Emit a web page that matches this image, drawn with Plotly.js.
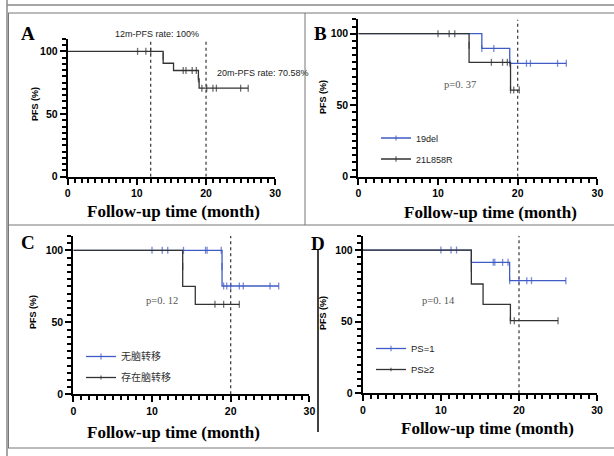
<!DOCTYPE html>
<html>
<head>
<meta charset="utf-8">
<script src="https://cdn.plot.ly/plotly-3.0.1.min.js"></script>
<style>html,body{margin:0;padding:0;background:#fff;}#chart{width:614px;height:456px;}</style>
</head>
<body>
<div id="chart"></div>
<script>
// ---------------- DATA ----------------
const xTickStep = 10;   // major ticks 0,10,20,30
const yTickStep = 50;   // major ticks 0,50,100
const xMinorStep = 1;
const yMinorStep = 5;
const xTitle = 'Follow-up time (month)';
const yTitle = 'PFS (%)';

// Panel A: whole cohort
const A_eventT = [0, 13.8, 15.3, 19.0];
const A_eventS = [100, 90.5, 84.7, 70.6];
const A_censT = [10.1, 11.3, 12.0, 13.8, 16.7, 17.1, 18.0, 18.6, 18.9, 19.4, 20.1, 21.0, 21.5, 25.0, 26.1];
const A_censS = [100, 100, 100, 96, 84.7, 84.7, 84.7, 84.7, 78, 70.6, 70.6, 70.6, 70.6, 70.6, 70.6];
const A_refLines = [12, 20];
const A_notes = ['12m-PFS rate: 100%', '20m-PFS rate: 70.58%'];

// Panel B: mutation type
const B_names = ['19del', '21L858R'];
const B1_eventT = [0, 15.5, 19.0];
const B1_eventS = [100, 89.7, 79.3];
const B1_censT = [15.5, 17.0, 19.0, 21.1, 21.6, 25.0, 26.1];
const B1_censS = [89.7, 89.7, 79.3, 79.3, 79.3, 79.3, 79.3];
const B2_eventT = [0, 13.9, 19.1];
const B2_eventS = [100, 80, 60.6];
const B2_censT = [10.0, 11.4, 12.1, 13.9, 16.7, 18.1, 18.7, 19.1, 19.5, 20.2];
const B2_censS = [100, 100, 100, 92, 80, 80, 80, 60.6, 60.6, 60.6];
const B_p = 'p=0. 37';

// Panel C: brain metastasis
const C_names = ['无脑转移', '存在脑转移'];
const C1_eventT = [0, 18.9];
const C1_eventS = [100, 75.2];
const C1_censT = [10.0, 11.3, 12.0, 14.0, 16.8, 17.0, 18.8, 18.9, 19.1, 19.5, 20.0, 21.1, 21.6, 25.0, 26.1];
const C1_censS = [100, 100, 100, 100, 100, 100, 100, 88.7, 75.2, 75.2, 75.2, 75.2, 75.2, 75.2, 75.2];
const C2_eventT = [0, 13.9, 15.5];
const C2_eventS = [100, 75, 62.5];
const C2_censT = [13.9, 18.0, 19.1, 21.1];
const C2_censS = [88.7, 62.5, 62.5, 62.5];
const C_p = 'p=0. 12';

// Panel D: PS score
const D_names = ['PS=1', 'PS≥2'];
const D1_eventT = [0, 13.9, 18.8];
const D1_eventS = [100, 91.4, 78.6];
const D1_censT = [10.0, 11.3, 12.0, 13.9, 16.7, 16.9, 17.9, 18.6, 18.8, 20.0, 21.0, 21.6, 26.0];
const D1_censS = [100, 100, 100, 91.4, 91.4, 91.4, 91.4, 91.4, 78.6, 78.6, 78.6, 78.6, 78.6];
const D2_eventT = [0, 13.9, 15.4, 18.9];
const D2_eventS = [100, 76.3, 62.1, 50.7];
const D2_censT = [13.9, 18.9, 19.4, 25.0];
const D2_censS = [87, 50.7, 50.7, 50.7];
const D_p = 'p=0. 14';

const refLine20 = [20];

// ---------------- STYLE / LAYOUT ----------------
const W = 614, H = 456;
const px = v => v / W;
const py = v => 1 - v / H;
const BLUE = '#3f5bc6', DARK = '#333333';
const SERIF = '"Times New Roman", "Liberation Serif", serif';
const SANS = 'Arial, "Liberation Sans", sans-serif';
const CJK = '"Noto Sans CJK SC", sans-serif';

const panels = [
  {id: '',  left: 67.7,  right: 275.2, bottom: 176.7, top: 38.8},
  {id: '2', left: 358.3, right: 597.4, bottom: 176.7, top: 19.4},
  {id: '3', left: 73.3,  right: 309.4, bottom: 394.3, top: 235.9},
  {id: '4', left: 362.8, right: 597.1, bottom: 393.3, top: 235.7}
];

function kmTrace(eventT, eventS, censT, censS, color, name, pi, legend) {
  const pts = [];
  eventT.forEach((t, i) => pts.push({t: t, s: eventS[i], c: false}));
  censT.forEach((t, i) => pts.push({t: t, s: censS[i], c: true}));
  pts.sort((a, b) => (a.t - b.t) || (b.s - a.s));
  const p = panels[pi];
  const tr = {
    type: 'scatter', mode: 'lines+markers',
    x: pts.map(d => d.t), y: pts.map(d => d.s),
    line: {shape: 'hv', color: color, width: 1.3},
    marker: {symbol: 'line-ns', size: pts.map(d => d.c ? 5 : 0),
             color: color, line: {color: color, width: 1.3}},
    xaxis: 'x' + p.id, yaxis: 'y' + p.id,
    name: name, cliponaxis: false, hoverinfo: 'skip',
    showlegend: !!legend
  };
  if (legend) { tr.legend = legend; tr.legendgroup = name; }
  return tr;
}

const data = [
  kmTrace(A_eventT, A_eventS, A_censT, A_censS, DARK, 'all', 0, null),
  kmTrace(B1_eventT, B1_eventS, B1_censT, B1_censS, BLUE, B_names[0], 1, 'legend'),
  kmTrace(B2_eventT, B2_eventS, B2_censT, B2_censS, DARK, B_names[1], 1, 'legend'),
  kmTrace(C1_eventT, C1_eventS, C1_censT, C1_censS, BLUE, C_names[0], 2, 'legend2'),
  kmTrace(C2_eventT, C2_eventS, C2_censT, C2_censS, DARK, C_names[1], 2, 'legend2'),
  kmTrace(D1_eventT, D1_eventS, D1_censT, D1_censS, BLUE, D_names[0], 3, 'legend3'),
  kmTrace(D2_eventT, D2_eventS, D2_censT, D2_censS, DARK, D_names[1], 3, 'legend3')
];

const tickFont = {family: SANS, size: 10.5, weight: 'bold', color: '#000'};
const layout = {
  width: W, height: H,
  margin: {l: 0, r: 0, t: 0, b: 0},
  paper_bgcolor: '#fff', plot_bgcolor: 'rgba(0,0,0,0)',
  font: {family: SANS, color: '#000'},
  annotations: [], shapes: []
};

panels.forEach(p => {
  layout['xaxis' + p.id] = {
    domain: [px(p.left), px(p.right)], range: [0, 30], anchor: 'y' + p.id,
    tickmode: 'linear', tick0: 0, dtick: xTickStep, ticks: 'outside', ticklen: 6, tickwidth: 2, tickcolor: '#000',
    showline: true, linewidth: 2, linecolor: '#000', showgrid: false, zeroline: false,
    tickfont: tickFont, fixedrange: true,
    minor: {tick0: 0, dtick: xMinorStep, ticks: 'outside', ticklen: 4, tickwidth: 2, tickcolor: '#000', showgrid: false}
  };
  layout['yaxis' + p.id] = {
    domain: [py(p.bottom), py(p.top)], range: [0, 110], anchor: 'x' + p.id,
    tickmode: 'linear', tick0: 0, dtick: yTickStep, ticks: 'outside', ticklen: 6, tickwidth: 2, tickcolor: '#000',
    showline: true, linewidth: 2, linecolor: '#000', showgrid: false, zeroline: false,
    tickfont: tickFont, fixedrange: true,
    minor: {tick0: 0, dtick: yMinorStep, ticks: 'outside', ticklen: 4, tickwidth: 2, tickcolor: '#000', showgrid: false}
  };
});

// reference dotted lines
function refShapes(vals, pi) {
  const p = panels[pi];
  vals.forEach(v => layout.shapes.push({
    type: 'line', xref: 'x' + p.id, yref: 'y' + p.id, x0: v, x1: v, y0: 0, y1: 110,
    line: {color: '#333', width: 1.2, dash: 'dot'}, layer: 'below'
  }));
}
refShapes(A_refLines, 0);
refShapes(refLine20, 1);
refShapes(refLine20, 2);
refShapes(refLine20, 3);

// figure frame lines
function hline(y, x0, x1, c, w) { layout.shapes.push({type: 'line', xref: 'paper', yref: 'paper', x0: px(x0), x1: px(x1), y0: py(y), y1: py(y), line: {color: c, width: w}}); }
function vline(x, y0, y1, c, w) { layout.shapes.push({type: 'line', xref: 'paper', yref: 'paper', x0: px(x), x1: px(x), y0: py(y0), y1: py(y1), line: {color: c, width: w}}); }
vline(7, 0, 456, '#888', 1.5);
hline(5, 7, 614, '#888', 1.5);
hline(13, 8, 614, '#777', 1);
vline(8.5, 13, 448, '#777', 1);
vline(305, 13, 225, '#777', 1);
hline(225, 8, 614, '#777', 1);
vline(318, 250, 432, '#000', 1.5);
hline(448, 8, 614, '#777', 1);

function ann(text, x, y, font, extra) {
  layout.annotations.push(Object.assign({
    text: text, xref: 'paper', yref: 'paper', x: px(x), y: py(y),
    xanchor: 'center', yanchor: 'middle', showarrow: false, font: font
  }, extra || {}));
}
const letterFont = {family: SERIF, size: 19, weight: 'bold', color: '#000'};
ann('A', 28, 33, letterFont);
ann('B', 320, 33, letterFont);
ann('C', 28, 242, letterFont);
ann('D', 318, 243, letterFont);

const xtFont = {family: SERIF, size: 17, weight: 'bold', color: '#000'};
ann(xTitle, 173, 211, xtFont);
ann(xTitle, 490, 212, xtFont);
ann(xTitle, 173, 432, xtFont);
ann(xTitle, 487, 428, xtFont);

const ytFont = {family: SANS, size: 9, weight: 'bold', color: '#000'};
ann(yTitle, 35, 104, ytFont, {textangle: -90});
ann(yTitle, 323, 97, ytFont, {textangle: -90});
ann(yTitle, 33, 312, ytFont, {textangle: -90});
ann(yTitle, 323, 313, ytFont, {textangle: -90});

const noteFont = {family: SANS, size: 9, color: '#222'};
ann(A_notes[0], 157, 34, noteFont);
ann(A_notes[1], 263, 73, noteFont);

const pFont = {family: SERIF, size: 10.5, color: '#555'};
ann(B_p, 460, 85, pFont);
ann(C_p, 162, 300, pFont);
ann(D_p, 438, 300, pFont);

const legBase = {bgcolor: 'rgba(0,0,0,0)', borderwidth: 0, xanchor: 'left', yanchor: 'top', tracegroupgap: 2, itemclick: false, itemdoubleclick: false};
layout.legend = Object.assign({}, legBase, {x: px(376), y: py(123.5), font: {family: SANS, size: 9, color: '#222'}});
layout.legend2 = Object.assign({}, legBase, {x: px(81), y: py(342), font: {family: CJK, size: 10, color: '#333'}});
layout.legend3 = Object.assign({}, legBase, {x: px(371), y: py(334), font: {family: SANS, size: 9.5, color: '#222'}});

Plotly.newPlot('chart', data, layout, {staticPlot: true, displayModeBar: false});
</script>
</body>
</html>
